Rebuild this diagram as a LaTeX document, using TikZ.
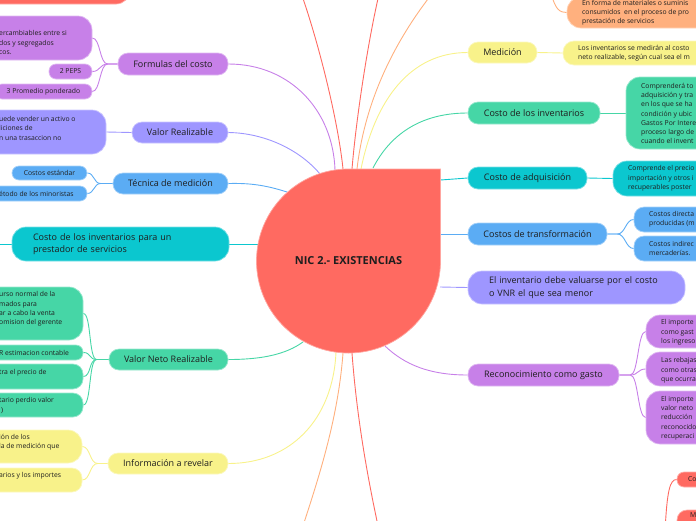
\documentclass[tikz,border=0pt]{standalone}
\usepackage{fontspec}
\setmainfont{Open Sans}
\usetikzlibrary{backgrounds}
\definecolor{cRed}{HTML}{FF6A61}
\definecolor{cPurple}{HTML}{C780E8}
\definecolor{cLav}{HTML}{9E96FF}
\definecolor{cBlue}{HTML}{5BACF4}
\definecolor{cTeal}{HTML}{0BC7CF}
\definecolor{cGreen}{HTML}{46D6A6}
\definecolor{cYellow}{HTML}{F8F28A}
\definecolor{cOrange}{HTML}{FFB07E}
\definecolor{txt}{HTML}{1E1E1E}
\newcommand\mainf{\fontsize{9}{12.5}\selectfont}
\newcommand\smallf{\fontsize{6.8}{9.3}\selectfont}
\begin{document}
\begin{tikzpicture}[x=1pt,y=-1pt,
  mbox/.style={fill=#1, draw=#1!55!white, line width=0.7pt, rounded corners=10pt, inner sep=0pt, text=txt, font=\mainf},
  sbox/.style={fill=#1, draw=#1!55!white, line width=0.7pt, rounded corners=7pt, inner sep=0pt, text=txt, font=\smallf},
  bbox/.style={fill=#1, draw=#1!55!white, line width=0.7pt, rounded corners=14pt, inner sep=0pt},
  stxt/.style={inner sep=0pt, anchor=west, align=left, font=\smallf, text=txt},
  link/.style={draw=#1, line width=0.9pt},
]
\useasboundingbox (0,0) rectangle (696,520);

% top-left red node (cut)
\node[bbox=cRed, minimum width=190pt, minimum height=44pt] (tl) at (35,-18) {};

% central node
\draw[fill=cRed, draw=cRed!60!white, line width=0.7pt] (348.5,169) -- (440.5,169) -- (440.5,261) arc[start angle=0, end angle=-270, radius=92pt] -- cycle;
\node[font=\fontsize{11}{13}\selectfont\bfseries, text=txt, inner sep=0pt] (c) at (348.5,261) {NIC 2.- EXISTENCIAS};

\coordinate (cfc) at (335,170);
\coordinate (cvr) at (320,174);
\coordinate (ctm) at (287,192);
\coordinate (ccp) at (258,244);
\coordinate (cvnr) at (303,342);
\coordinate (cir) at (336,352);
\coordinate (cme) at (361,169);
\coordinate (cci) at (373,168);
\coordinate (cca) at (440.5,180);
\coordinate (cct) at (440.5,234);
\coordinate (cei) at (440,287);
\coordinate (crg) at (385,346);
\coordinate (ctop1) at (343,169);
\coordinate (ctop2) at (352,169);
\coordinate (ctop3) at (357,169);
\coordinate (cbot1) at (343,353);
\coordinate (cbot2) at (352,353);
\coordinate (o1) at (300,-10);
\coordinate (o2) at (380,-10);
\coordinate (o3) at (435,-10);
\coordinate (o4) at (300,535);
\coordinate (o5) at (380,535);
\coordinate (cpo) at (-12,244);
\coordinate (ots) at (551,-8);
\coordinate (rbs) at (665,532);

% ---------- left branches
\node[mbox=cPurple, minimum width=110pt, minimum height=22pt] (fc) at (173,64) {Formulas del costo};
\node[bbox=cPurple, minimum width=152pt, minimum height=44pt] (fc1) at (16,38) {};
\node[stxt] (fc1t) at (-1,42.7) {ercambiables entre si\\dos y segregados\\cos.};
\node[sbox=cPurple, minimum width=43pt, minimum height=15pt] (fc2) at (70.5,71.5) {2 PEPS};
\node[sbox=cPurple, minimum width=97pt, minimum height=15pt] (fc3) at (43.5,91.5) {3 Promedio ponderado};

\node[mbox=cLav, minimum width=96pt, minimum height=21pt] (vr) at (180,132.5) {Valor Realizable};
\node[bbox=cLav, minimum width=166pt, minimum height=44pt] (vr1) at (23,132) {};
\node[stxt] (vr1t) at (-1,128.3) {uede vender un activo o\\liciones de\\n una trasaccion no};

\node[mbox=cBlue, minimum width=115pt, minimum height=21pt] (tm) at (170.5,183.5) {Técnica de medición};
\node[sbox=cBlue, minimum width=75pt, minimum height=14pt] (tm1) at (49.5,173) {Costos estándar};
\node[sbox=cBlue, minimum width=107pt, minimum height=15pt] (tm2) at (33.5,193.5) {};
\node[stxt] (tm2t) at (-1,193.5) {étodo de los minoristas};

\node[mbox=cTeal, rounded corners=14pt, minimum width=217pt, minimum height=34pt, text width=175pt, align=left] (cp) at (120.5,244) {Costo de los inventarios para un\\prestador de servicios};

\node[mbox=cGreen, minimum width=119pt, minimum height=21pt] (vnr) at (168.5,359.5) {Valor Neto Realizable};
\node[bbox=cGreen, minimum width=143pt, minimum height=53pt] (vnr1) at (11.5,313.5) {};
\node[stxt] (vnr1t) at (-1,309) {urso normal de la\\mados para\\ar a cabo la venta\\omision del gerente};
\node[sbox=cGreen, minimum width=143pt, minimum height=15pt] (vnr2) at (11.5,352.5) {};
\node[stxt] (vnr2t) at (-1,352.5) {R estimacion contable};
\node[bbox=cGreen, rounded corners=10pt, minimum width=143pt, minimum height=25pt] (vnr3) at (11.5,376.5) {};
\node[stxt] (vnr3t) at (-1,373) {tra el precio de};
\node[bbox=cGreen, rounded corners=10pt, minimum width=143pt, minimum height=24pt] (vnr4) at (11.5,405) {};
\node[stxt] (vnr4t) at (-1,405.5) {tario perdio valor\\\hspace*{2pt})};

\node[mbox=cYellow, minimum width=120pt, minimum height=21pt] (ir) at (168,463.5) {Información a revelar};
\node[bbox=cYellow, minimum width=142pt, minimum height=33pt] (ir1) at (11,446.5) {};
\node[stxt] (ir1t) at (-1,442) {ión de los\\la de medición que};
\node[bbox=cYellow, rounded corners=10pt, minimum width=142pt, minimum height=24pt] (ir2) at (11,480) {};
\node[stxt] (ir2t) at (-1,476) {arios y los importes};

% ---------- right branches
\node[bbox=cOrange, minimum width=193pt, minimum height=31pt] (or1) at (663.5,12.5) {};
\node[stxt] (or1t) at (582,12.7) {En forma de materiales o suminis\\consumidos\ \ en el proceso de pro\\prestación de servicios};

\node[mbox=cYellow, minimum width=69pt, minimum height=21pt] (me) at (502.5,52.5) {Medición};
\node[bbox=cYellow, rounded corners=11pt, minimum width=197pt, minimum height=24pt] (me1) at (661.5,53) {};
\node[stxt] (me1t) at (578,53.5) {Los inventarios se medirán al costo\\neto realizable, según cual sea el m};

\node[mbox=cGreen, minimum width=132pt, minimum height=22pt] (ci) at (534,113) {Costo de los inventarios};
\node[bbox=cGreen, minimum width=134pt, minimum height=72pt] (ci1) at (693,113) {};
\node[stxt] (ci1t) at (641,113.5) {Comprenderá to\\adquisición y tra\\en los que se ha\\condición y ubic\\Gastos Por Intere\\proceso largo de\\cuando el invent};

\node[mbox=cTeal, minimum width=119pt, minimum height=22pt] (ca) at (527.5,178) {Costo de adquisición};
\node[bbox=cTeal, minimum width=147pt, minimum height=35pt] (ca1) at (686.5,178.5) {};
\node[stxt] (ca1t) at (628,178.5) {Comprende el precio\\importación y otros i\\recuperables poster};

\node[mbox=cBlue, minimum width=139pt, minimum height=22pt] (ct) at (537.5,234) {Costos de transformación};
\node[bbox=cBlue, rounded corners=10pt, minimum width=126pt, minimum height=25pt] (ctA) at (697,219.5) {};
\node[stxt] (ctAt) at (649,219.5) {Costos directa\\producidas (m};
\node[bbox=cBlue, rounded corners=10pt, minimum width=126pt, minimum height=25pt] (ctB) at (697,248.5) {};
\node[stxt] (ctBt) at (649,248.5) {Costos indirec\\mercaderías.};

\node[mbox=cLav, rounded corners=14pt, minimum width=217pt, minimum height=33pt, text width=175pt, align=left] (ei) at (576.5,287.5) {El inventario debe valuarse por el costo\\o VNR el que sea menor};

\node[mbox=cPurple, minimum width=151pt, minimum height=22pt] (rg) at (543.5,375) {Reconocimiento como gasto};
\node[bbox=cPurple, minimum width=114pt, minimum height=33pt] (rg1) at (703,331.5) {};
\node[stxt] (rg1t) at (661,332.3) {El importe\\como gast\\los ingreso};
\node[bbox=cPurple, minimum width=114pt, minimum height=34pt] (rg2) at (703,369) {};
\node[stxt] (rg2t) at (661,370.3) {Las rebajas\\como otras\\que ocurra};
\node[bbox=cPurple, minimum width=114pt, minimum height=53pt] (rg3) at (703,417.5) {};
\node[stxt] (rg3t) at (661,418) {El importe\\valor neto\\reducción\\reconocido\\recuperaci};

\node[sbox=cRed, minimum width=83pt, minimum height=15pt] (rb1) at (718.5,479.5) {};
\node[stxt] (rb1t) at (688,479.5) {Co};
\node[bbox=cRed, rounded corners=10pt, minimum width=83pt, minimum height=30pt] (rb2) at (718.5,525) {};
\node[stxt] (rb2t) at (690,515.5) {M};

% ---------- connectors
\begin{scope}[on background layer]
\draw[link=cPurple] (cfc) .. controls (333,110) and (290,64) .. (fc.east);
\draw[link=cLav] (cvr) .. controls (300,150) and (265,133) .. (vr.east);
\draw[link=cBlue] (ctm) .. controls (265,185) and (250,183) .. (tm.east);
\draw[link=cTeal] (ccp) -- (cp.east);
\draw[link=cGreen] (cvnr) .. controls (285,355) and (260,359.5) .. (vnr.east);
\draw[link=cYellow] (cir) .. controls (333,420) and (290,463.5) .. (ir.east);
\draw[link=cYellow] (cme) .. controls (375,100) and (410,52.5) .. (me.west);
\draw[link=cGreen] (cci) .. controls (390,135) and (420,113) .. (ci.west);
\draw[link=cTeal] (cca) -- (ca.west);
\draw[link=cBlue] (cct) -- (ct.west);
\draw[link=cLav] (cei) -- (ei.west);
\draw[link=cPurple] (crg) .. controls (405,365) and (430,375) .. (rg.west);
\draw[link=cRed] (ctop1) .. controls (338,120) and (318,40) .. (o1);
\draw[link=cRed] (ctop2) .. controls (356,120) and (368,40) .. (o2);
\draw[link=cOrange] (ctop3) .. controls (365,100) and (395,40) .. (o3);
\draw[link=cOrange] (cbot1) .. controls (338,420) and (318,480) .. (o4);
\draw[link=cRed] (cbot2) .. controls (357,420) and (368,480) .. (o5);
% children
\foreach \n in {fc1,fc2,fc3}
  \draw[link=cPurple] (fc.west) -- ++(-10,0) .. controls +(-8,0) and +(8,0) .. (\n.east);
\draw[link=cLav] (vr.west) -- (vr1.east);
\foreach \n in {tm1,tm2}
  \draw[link=cBlue] (tm.west) -- ++(-12,0) .. controls +(-7,0) and +(7,0) .. (\n.east);
\draw[link=cTeal] (cp.west) -- (cpo);
\foreach \n in {vnr1,vnr2,vnr3,vnr4}
  \draw[link=cGreen] (vnr.west) -- ++(-12,0) .. controls +(-8,0) and +(8,0) .. (\n.east);
\foreach \n in {ir1,ir2}
  \draw[link=cYellow] (ir.west) -- ++(-10,0) .. controls +(-8,0) and +(8,0) .. (\n.east);
\draw[link=cOrange] (ots) .. controls (555,10) and (560,12.5) .. (or1.west);
\draw[link=cYellow] (me.east) -- (me1.west);
\draw[link=cGreen] (ci.east) -- (ci1.west);
\draw[link=cTeal] (ca.east) -- (ca1.west);
\foreach \n in {ctA,ctB}
  \draw[link=cBlue] (ct.east) -- ++(10,0) .. controls +(8,0) and +(-8,0) .. (\n.west);
\foreach \n in {rg1,rg2,rg3}
  \draw[link=cPurple] (rg.east) -- ++(11,0) .. controls +(8,0) and +(-8,0) .. (\n.west);
\draw[link=cRed] (rbs) .. controls (667,490) and (670,479.5) .. (rb1.west);
\draw[link=cRed] (rbs) .. controls (668,522) and (671,525) .. (rb2.west);
\end{scope}
\end{tikzpicture}
\end{document}
